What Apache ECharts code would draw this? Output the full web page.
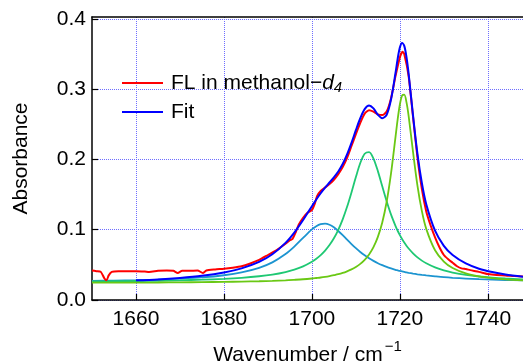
<!DOCTYPE html>
<html>
<head>
<meta charset="utf-8">
<script src="https://cdn.jsdelivr.net/npm/echarts@6.0.0/dist/echarts.min.js"></script>
<style>
  html, body { margin: 0; padding: 0; background: #fff; }
  #chart { width: 523px; height: 362px; }
</style>
</head>
<body>
<div id="chart"></div>
<script>
// wavenumbers (cm-1) for the fitted curves
const waveX = [1650, 1655, 1660, 1665, 1670, 1675, 1680, 1684, 1688, 1691, 1694, 1696, 1698,
  1700, 1701, 1702, 1703, 1704, 1705, 1706, 1707, 1708, 1709, 1710, 1711, 1712, 1713, 1714, 1715, 1716, 1717, 1718, 1719,
  1719.5, 1720, 1720.5, 1721, 1721.5, 1722, 1723, 1724, 1725, 1726, 1728, 1730, 1732, 1735, 1738, 1741, 1744, 1748];

// band components
const band1 = [0.0271, 0.0276, 0.0282, 0.0290, 0.0303, 0.0321, 0.0352, 0.0392, 0.0457, 0.0535, 0.0654, 0.0760, 0.0884,
  0.1004, 0.1050, 0.1079, 0.1086, 0.1070, 0.1034, 0.0982, 0.0922, 0.0858, 0.0796, 0.0737, 0.0683, 0.0635, 0.0593, 0.0556, 0.0523, 0.0495, 0.0470, 0.0449, 0.0430,
  0.0422, 0.0414, 0.0407, 0.0400, 0.0393, 0.0387, 0.0376, 0.0366, 0.0357, 0.0349, 0.0336, 0.0324, 0.0315, 0.0305, 0.0296, 0.0289, 0.0284, 0.0279];
const band2 = [0.0264, 0.0267, 0.0270, 0.0274, 0.0280, 0.0289, 0.0301, 0.0316, 0.0338, 0.0362, 0.0398, 0.0432, 0.0478,
  0.0544, 0.0587, 0.0639, 0.0703, 0.0781, 0.0878, 0.0999, 0.1147, 0.1325, 0.1530, 0.1749, 0.1948, 0.2080, 0.2104, 0.2012, 0.1833, 0.1618, 0.1405, 0.1214, 0.1055,
  0.0985, 0.0923, 0.0868, 0.0818, 0.0772, 0.0732, 0.0663, 0.0606, 0.0560, 0.0522, 0.0463, 0.0420, 0.0390, 0.0357, 0.0334, 0.0318, 0.0306, 0.0294];
const band3 = [0.0246, 0.0247, 0.0248, 0.0249, 0.0251, 0.0254, 0.0258, 0.0262, 0.0267, 0.0273, 0.0280, 0.0287, 0.0295,
  0.0306, 0.0313, 0.0320, 0.0329, 0.0340, 0.0353, 0.0367, 0.0385, 0.0408, 0.0435, 0.0470, 0.0514, 0.0572, 0.0648, 0.0752, 0.0898, 0.1103, 0.1397, 0.1804, 0.2313,
  0.2569, 0.2781, 0.2908, 0.2920, 0.2814, 0.2616, 0.2102, 0.1627, 0.1267, 0.1012, 0.0707, 0.0547, 0.0455, 0.0378, 0.0335, 0.0310, 0.0293, 0.0279];
const fitY = [null, null, 0.0280, 0.0293, 0.0314, 0.0344, 0.0391, 0.0450, 0.0542, 0.0650, 0.0812, 0.0959, 0.1137,
  0.1334, 0.1430, 0.1518, 0.1598, 0.1671, 0.1745, 0.1828, 0.1934, 0.2071, 0.2235, 0.2415, 0.2585, 0.2715, 0.2765, 0.2725, 0.2635, 0.2585, 0.2635, 0.2855, 0.3225,
  0.3430, 0.3590, 0.3655, 0.3615, 0.3459, 0.3215, 0.2621, 0.2079, 0.1664, 0.1363, 0.0986, 0.0771, 0.0640, 0.0520, 0.0445, 0.0397, 0.0363, 0.0332];

// measured spectrum
const redX = [1650, 1651, 1652, 1652.8, 1653.3, 1653.8, 1654.5, 1656, 1658, 1660, 1662, 1663, 1665, 1667,
  1668.5, 1669.5, 1670.5, 1672, 1674, 1675.2, 1676, 1678, 1680, 1682, 1684, 1686, 1688, 1690,
  1692, 1694, 1695, 1695.6, 1696.3, 1697, 1698, 1699, 1700, 1700.6, 1701.2, 1702, 1703, 1704,
  1705, 1706, 1707, 1708, 1709, 1710, 1711, 1712, 1713, 1714, 1715, 1716, 1717, 1718,
  1719, 1720, 1720.6, 1721, 1722, 1723, 1724, 1725, 1726, 1727, 1728, 1729, 1730, 1731,
  1732, 1733, 1734, 1735, 1736, 1738, 1740, 1742, 1744, 1746, 1748];
const redY = [0.042, 0.041, 0.040, 0.031, 0.028, 0.035, 0.040, 0.041, 0.041, 0.041, 0.0405, 0.040, 0.0415, 0.042,
  0.0415, 0.0385, 0.0415, 0.0415, 0.042, 0.0385, 0.042, 0.0435, 0.0445, 0.046, 0.048, 0.052, 0.057, 0.064,
  0.071, 0.080, 0.085, 0.087, 0.096, 0.107, 0.117, 0.124, 0.128, 0.136, 0.148, 0.155, 0.160, 0.165,
  0.171, 0.179, 0.189, 0.202, 0.219, 0.236, 0.252, 0.265, 0.270, 0.268, 0.264, 0.263, 0.268, 0.287,
  0.318, 0.345, 0.353, 0.350, 0.318, 0.260, 0.203, 0.158, 0.126, 0.106, 0.089, 0.075, 0.064, 0.058,
  0.053, 0.048, 0.045, 0.044, 0.0425, 0.040, 0.037, 0.0355, 0.035, 0.034, 0.0333];

const yTicks = [0, 0.1, 0.2, 0.3, 0.4];

const pairs = (xs, ys) => xs.map((x, i) => [x, ys[i]]);

const FONT = "'Liberation Sans', Arial, sans-serif";
const gridLine = { show: true, lineStyle: { color: '#6e6eff', type: 'dotted', width: 1 } };

const chart = echarts.init(document.getElementById('chart'), null, { renderer: 'canvas' });

const option = {
  animation: false,
  backgroundColor: '#fff',
  grid: { left: 92, top: 17, right: 0, bottom: 62, outerBoundsMode: 'none', containLabel: false },
  legend: {
    data: ['FL', 'Fit'],
    orient: 'vertical',
    left: 117,
    top: 66,
    icon: 'rect',
    itemWidth: 41,
    itemHeight: 2,
    itemGap: 5,
    textStyle: {
      fontFamily: FONT, fontSize: 21, color: '#000', lineHeight: 24, padding: [0, 0, 0, 3],
      rich: {
        it: { fontFamily: FONT, fontSize: 21, fontStyle: 'italic', color: '#000' },
        sub: { fontFamily: FONT, fontSize: 15, fontStyle: 'italic', color: '#000', verticalAlign: 'bottom', lineHeight: 14, padding: [9, 0, 0, 0] }
      }
    },
    formatter: (name) => name === 'FL' ? 'FL in methanol\u2212{it|d}{sub|4}' : name
  },
  xAxis: [
    {
      type: 'value',
      min: 1650,
      max: 1748,
      position: 'bottom',
      axisLine: { lineStyle: { color: '#000', width: 1.5 } },
      axisTick: { inside: true, length: 6, lineStyle: { color: '#000', width: 1.2 } },
      axisLabel: { showMinLabel: false, showMaxLabel: false, margin: 9, fontFamily: FONT, fontSize: 21, color: '#000', formatter: (v) => String(v) },
      splitLine: Object.assign({ showMinLine: false, showMaxLine: false }, gridLine),
      name: 'Wavenumber / cm{sup|\u22121}',
      nameLocation: 'middle',
      nameGap: 39,
      nameTextStyle: {
        fontFamily: FONT, fontSize: 21, color: '#000',
        rich: { sup: { fontFamily: FONT, fontSize: 15, color: '#000', verticalAlign: 'top', padding: [0, 0, 17, 2] } }
      }
    },
    {
      type: 'value',
      min: 1650,
      max: 1748,
      position: 'top',
      axisLine: { show: true, lineStyle: { color: '#000', width: 1.5 } },
      axisTick: { show: false },
      axisLabel: { show: false },
      splitLine: { show: false }
    }
  ],
  yAxis: {
    type: 'value',
    min: 0,
    max: 0.4025,
    interval: 0.1,
    axisLine: { show: true, lineStyle: { color: '#000', width: 1.5 } },
    axisTick: { inside: true, length: 6, lineStyle: { color: '#000', width: 1.2 } },
    axisLabel: {
      showMaxLabel: false,
      margin: 6,
      fontFamily: FONT, fontSize: 21, color: '#000',
      formatter: (v) => yTicks.some(t => Math.abs(t - v) < 1e-9) ? v.toFixed(1) : ''
    },
    splitLine: Object.assign({ showMaxLine: false }, gridLine),
    name: 'Absorbance',
    nameLocation: 'middle',
    nameGap: 60,
    nameTextStyle: { fontFamily: FONT, fontSize: 21, color: '#000' }
  },
  series: [
    { name: 'band1', type: 'line', data: pairs(waveX, band1), showSymbol: false, smooth: 0.3, lineStyle: { color: '#1c94d0', width: 1.8 }, itemStyle: { color: '#1c94d0' }, z: 2 },
    { name: 'band2', type: 'line', data: pairs(waveX, band2), showSymbol: false, smooth: 0.3, lineStyle: { color: '#1fc873', width: 1.8 }, itemStyle: { color: '#1fc873' }, z: 3 },
    { name: 'band3', type: 'line', data: pairs(waveX, band3), showSymbol: false, smooth: 0.3, lineStyle: { color: '#6ac814', width: 1.8 }, itemStyle: { color: '#6ac814' }, z: 4 },
    { name: 'FL', type: 'line', data: pairs(redX, redY), showSymbol: false, smooth: 0.2, lineStyle: { color: '#ff0000', width: 2 }, itemStyle: { color: '#ff0000' }, z: 5 },
    { name: 'Fit', type: 'line', data: pairs(waveX, fitY), showSymbol: false, smooth: 0.3, connectNulls: false, lineStyle: { color: '#0000ff', width: 2 }, itemStyle: { color: '#0000ff' }, z: 6 }
  ]
};

chart.setOption(option);
</script>
</body>
</html>
